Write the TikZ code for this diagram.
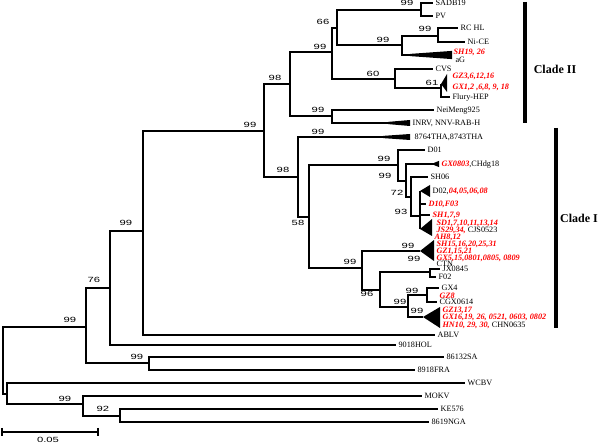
\documentclass[tikz,border=0pt]{standalone}
\usepackage{fontspec}
\setmainfont{Liberation Serif}
\setsansfont{Liberation Sans}
\usetikzlibrary{positioning}
\newcommand{\bv}[1]{\scalebox{1.5}[1]{#1}}
\newcommand{\rd}[1]{\textcolor{red}{\bfseries\itshape #1}}
\begin{document}
\begin{tikzpicture}[
  x=1pt, y=-1pt,
  br/.style={line width=2.2pt},
  leaf/.style={anchor=west, inner xsep=2.4pt, inner ysep=0pt, text height=5.8pt, text depth=0.6pt, font=\fontsize{8.2}{8.2}\selectfont},
  boot/.style={inner sep=0pt, font=\sffamily\fontsize{7.5}{7.5}\selectfont},
  clade/.style={inner sep=0pt, font=\bfseries\fontsize{12}{12}\selectfont},
  bar/.style={line width=3.4pt}
]
\useasboundingbox (0,0) rectangle (600,443);
% internal nodes
\coordinate (root) at (3,360);
\coordinate (nA) at (86,327);
\coordinate (nB) at (7,394);
\coordinate (nB2) at (83,404);
\coordinate (nB3) at (120,416);
\coordinate (nC) at (110,288);
\coordinate (nD) at (149,363);
\coordinate (nE) at (143,231);
\coordinate (nF) at (264,131);
\coordinate (nG) at (290,84);
\coordinate (nH) at (298,177);
\coordinate (nI) at (332,52);
\coordinate (nJ) at (332,116);
\coordinate (nK) at (337,28);
\coordinate (nL) at (395,79);
\coordinate (nM) at (421,10);
\coordinate (nN) at (402,45);
\coordinate (nO) at (438,36);
\coordinate (nP) at (441,88);
\coordinate (nQ) at (309,217);
\coordinate (nR) at (398,165);
\coordinate (nT) at (406,181);
\coordinate (nU) at (411,197);
\coordinate (nV) at (420,216);
\coordinate (nW) at (362,268);
\coordinate (nX) at (380,290);
\coordinate (nG2) at (430,272);
\coordinate (nY) at (408,307);
\coordinate (nZ) at (427,295);
% collapsed clades
\coordinate (shtip) at (410,55);
\coordinate (gztip) at (441,84);
\coordinate (inrvtip) at (388,123);
\coordinate (thatip) at (383,137);
\coordinate (gxtip) at (434,164);
\coordinate (d02tip) at (420,191);
\coordinate (sdtip) at (420,229);
\coordinate (cl1tip) at (420,251);
\coordinate (cl2tip) at (423,317);
\fill (shtip) ++(0,-1.1) -- ++(42,-3) -- ++(0,8.2) -- ++(-42,-3) -- cycle;
\fill (gztip) -- ++(6,-10) -- ++(0,18) -- cycle;
\fill (inrvtip) ++(0,-1.1) -- ++(22,-1.9) -- ++(0,6) -- ++(-22,-1.9) -- cycle;
\fill (thatip) ++(0,-1.1) -- ++(27,-1.9) -- ++(0,6) -- ++(-27,-1.9) -- cycle;
\fill (gxtip) ++(0,-1.1) -- ++(5,-2) -- ++(0,6.2) -- ++(-5,-2) -- cycle;
\fill (d02tip) -- ++(10,-6) -- ++(0,12) -- cycle;
\fill (sdtip) -- ++(12,-10) -- ++(0,17) -- cycle;
\fill (cl1tip) -- ++(14,-11) -- ++(0,21) -- cycle;
\fill (cl2tip) -- ++(17,-10) -- ++(0,21) -- cycle;
% leaves
\node[leaf] (sadb) at (433,3) {SADB19};
\node[leaf] (pv) at (433,16) {PV};
\node[leaf] (rchl) at (458,28) {RC HL};
\node[leaf] (nice) at (465,42) {Ni-CE};
\node[leaf] (sh19) at (451,52) {\rd{SH19, 26}};
\node[leaf] (ag) at (453,60) {aG};
\node[leaf] (cvs) at (433,69) {CVS};
\node[leaf] (gz3) at (450,76) {\rd{GZ3,6,12,16}};
\node[leaf] (gx1) at (450,87) {\rd{GX1,2 ,6,8, 9, 18}};
\node[leaf] (flury) at (450,97) {Flury-HEP};
\node[leaf] (nmg) at (434,110) {NeiMeng925};
\node[leaf] (inrv) at (410,123) {INRV, NNV-RAB-H};
\node[leaf] (tha) at (412,137) {8764THA,8743THA};
\node[leaf] (d01) at (425,150) {D01};
\node[leaf] (gx0803) at (439,164) {\rd{GX0803},CHdg18};
\node[leaf] (sh06) at (428,177) {SH06};
\node[leaf] (d02) at (430,191) {D02,\rd{04,05,06,08}};
\node[leaf] (d10) at (426,204) {\rd{D10,F03}};
\node[leaf] (sh1) at (430,215) {\rd{SH1,7,9}};
\node[leaf] (sd1) at (434,223) {\rd{SD1,7,10,11,13,14}};
\node[leaf] (js29) at (434,230) {\rd{JS29,34,} CJS0523};
\node[leaf] (ah8) at (432,237) {\rd{AH8,12}};
\node[leaf] (sh15) at (434,244) {\rd{SH15,16,20,25,31}};
\node[leaf] (gz1) at (434,251) {\rd{GZ1,15,21}};
\node[leaf] (gx5) at (434,257.5) {\rd{GX5,15,0801,0805, 0809}};
\node[leaf] (ctn) at (434,263.5) {CTN};
\node[leaf] (jx) at (440,269) {JX0845};
\node[leaf] (f02) at (436,277) {F02};
\node[leaf] (gx4) at (439,288) {GX4};
\node[leaf] (gz8) at (437,295.5) {\rd{GZ8}};
\node[leaf] (cgx) at (437,302) {CGX0614};
\node[leaf] (gz13) at (440,309.5) {\rd{GZ13,17}};
\node[leaf] (gx16) at (440,317) {\rd{GX16,19, 26, 0521, 0603, 0802}};
\node[leaf] (hn10) at (440,324.5) {\rd{HN10, 29, 30,} CHN0635};
\node[leaf] (ablv) at (435,335) {ABLV};
\node[leaf] (hol) at (396,345) {9018HOL};
\node[leaf] (sa) at (444,357) {86132SA};
\node[leaf] (fra) at (415,370) {8918FRA};
\node[leaf] (wcbv) at (465,383) {WCBV};
\node[leaf] (mokv) at (422,396) {MOKV};
\node[leaf] (ke) at (438,409) {KE576};
\node[leaf] (nga) at (429,422) {8619NGA};
% branches
\foreach \p/\c in {root/nA, root/nB, nA/nC, nA/nD, nC/nE, nC/hol.west,
  nD/sa.west, nD/fra.west, nE/nF, nE/ablv.west, nF/nG, nF/nH,
  nG/nI, nG/nJ, nI/nK, nI/nL, nK/nM, nK/nN, nM/sadb.west, nM/pv.west,
  nN/nO, nN/shtip, nO/rchl.west, nO/nice.west, nL/cvs.west, nL/nP,
  nP/gztip, nP/flury.west, nJ/nmg.west, nJ/inrvtip, nH/thatip, nH/nQ,
  nQ/nR, nQ/nW, nR/d01.west, nR/nT, nT/gxtip, nT/nU, nU/sh06.west, nU/nV,
  nV/d02tip, nV/d10.west, nV/sh1.west, nV/sdtip, nW/cl1tip, nW/nX,
  nX/nG2, nX/nY, nG2/jx.west, nG2/f02.west, nY/nZ, nY/cl2tip,
  nZ/gx4.west, nZ/cgx.west, nB/wcbv.west, nB/nB2, nB2/mokv.west, nB2/nB3,
  nB3/ke.west, nB3/nga.west}
  \draw[br] (\p) |- (\c);
% bootstrap values
\foreach \x/\y/\v [count=\i] in {70/320/99, 94/280/76, 137/357/99, 126/223/99,
  250/125/99, 275/78/98, 283/170/98, 320/47/99, 318/110/99, 323/22/66,
  373/74/60, 407/3/99, 383/40/99, 425/29/99, 432/83/61, 318/132/99,
  384/159/99, 385/176/99, 397/193/72, 401/212/93, 298/223/58, 350/262/99,
  408/246/99, 414/259/99, 367/294/96, 400/302/99, 412/291/99, 417/311/99,
  65/399/99, 103/409/92}
  \node[boot] (bs\i) at (\x,\y) {\bv{\v}};
% clades
\coordinate (c2top) at (525,2);
\coordinate (c2bot) at (525,123);
\coordinate (c1top) at (556,128);
\coordinate (c1bot) at (556,328);
\draw[bar] (c2top) -- (c2bot);
\draw[bar] (c1top) -- (c1bot);
\node[clade] (cl2) at (555,69) {Clade II};
\node[clade] (cl1) at (579,218) {Clade I};
% scale bar
\coordinate (sbl) at (2,432);
\coordinate (sbr) at (98,432);
\draw[line width=1.3pt] (sbl) -- (sbr);
\draw[line width=1.3pt] (sbl) ++(0,-4) -- ++(0,8);
\draw[line width=1.3pt] (sbr) ++(0,-4) -- ++(0,8);
\node[boot] (sbt) at (48,440) {\bv{0.05}};
\end{tikzpicture}
\end{document}
